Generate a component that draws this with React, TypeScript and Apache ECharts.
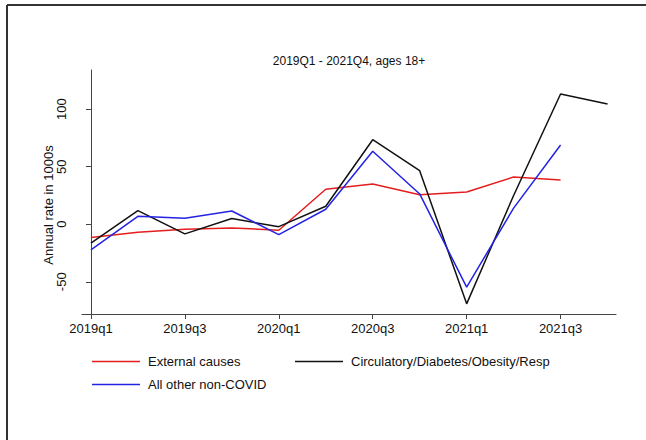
import React, { useEffect, useRef } from "react";
import * as echarts from "echarts";

const quarters = [
  "2019q1", "2019q2", "2019q3", "2019q4",
  "2020q1", "2020q2", "2020q3", "2020q4",
  "2021q1", "2021q2", "2021q3", "2021q4",
];
const externalCauses = [-11.6, -7, -4.3, -3.2, -5.2, 30.4, 35, 25.7, 28, 41, 38.5];
const circulatory = [-16.5, 11.8, -8.4, 4.9, -2.1, 15.6, 73.4, 46.5, -69.2, 25, 113.1, 104.4];
const allOtherNonCovid = [-22.3, 6.9, 5.2, 11.5, -9, 13, 63.4, 26.3, -54.7, 14, 68.8];
const xTickIndex = [0, 2, 4, 6, 8, 10];
const yTicks = [-50, 0, 50, 100];
const seriesNames = ["External causes", "Circulatory/Diabetes/Obesity/Resp", "All other non-COVID"];
const titleText = "2019Q1 - 2021Q4, ages 18+";
const yAxisTitle = "Annual rate in 1000s";

const FONT = '"Liberation Sans", Arial, Helvetica, sans-serif';

export default function App() {
  const ref = useRef<HTMLDivElement>(null);
  useEffect(() => {
    document.body.style.margin = "0";
    if (!ref.current) return;
    const chart = echarts.init(ref.current, null, { renderer: "svg" });
    const toPairs = (arr: number[]) => arr.map((v, i) => [i, v]);
    const colors = ["rgb(228,30,30)", "#111111", "rgb(35,35,228)"];
    const legendBase = {
      icon: "rect",
      itemWidth: 48,
      itemHeight: 1.6,
      itemGap: 0,
      padding: 0,
      textStyle: { fontFamily: FONT, fontSize: 13, color: "#111", padding: [0, 0, 0, 3] },
      selectedMode: false,
    };
    chart.setOption({
      animation: false,
      backgroundColor: "#ffffff",
      textStyle: { fontFamily: FONT },
      grid: { left: 82, right: 30, top: 70, bottom: 126, outerBoundsMode: "none" },
      xAxis: {
        type: "value",
        min: -0.19,
        max: 11.18,
        axisLine: { show: true, onZero: false, lineStyle: { color: "#444", width: 1 } },
        axisTick: { show: true, customValues: xTickIndex, length: 5, lineStyle: { color: "#444" } },
        axisLabel: {
          customValues: xTickIndex,
          formatter: (v: number) => quarters[Math.round(v)] ?? "",
          fontSize: 13,
          color: "#111",
          margin: 8,
          fontFamily: FONT,
        },
        splitLine: { show: false },
      },
      yAxis: {
        type: "value",
        min: -78,
        max: 134,
        axisLine: { show: true, lineStyle: { color: "#444", width: 1 } },
        axisTick: { show: true, customValues: yTicks, length: 5, lineStyle: { color: "#444" } },
        axisLabel: {
          customValues: yTicks,
          rotate: 90,
          fontSize: 13,
          color: "#111",
          margin: 14,
          fontFamily: FONT,
        },
        splitLine: { show: false },
      },
      legend: [
        { ...legendBase, left: 92, top: 355, data: [seriesNames[0]] },
        { ...legendBase, left: 295, top: 355, data: [seriesNames[1]] },
        { ...legendBase, left: 92, top: 378, data: [seriesNames[2]] },
      ],
      series: [
        { name: seriesNames[0], type: "line", data: toPairs(externalCauses), color: colors[0] },
        { name: seriesNames[1], type: "line", data: toPairs(circulatory), color: colors[1] },
        { name: seriesNames[2], type: "line", data: toPairs(allOtherNonCovid), color: colors[2] },
      ].map((s) => ({
        ...s,
        showSymbol: false,
        symbol: "none",
        lineStyle: { width: 1.5, color: s.color },
        itemStyle: { color: s.color },
      })),
      graphic: [
        { type: "line", shape: { x1: 7, y1: 5, x2: 646, y2: 5 }, style: { stroke: "#333", lineWidth: 2 } },
        { type: "line", shape: { x1: 7, y1: 5, x2: 7, y2: 440 }, style: { stroke: "#333", lineWidth: 2 } },
        {
          type: "text",
          x: 349,
          y: 60.5,
          style: { text: titleText, fontSize: 12, fontFamily: FONT, fill: "#111", align: "center", verticalAlign: "middle" },
        },
        {
          type: "text",
          x: 48,
          y: 205,
          rotation: Math.PI / 2,
          style: { text: yAxisTitle, fontSize: 13, fontFamily: FONT, fill: "#111", align: "center", verticalAlign: "middle" },
        },
      ],
    });
    return () => chart.dispose();
  }, []);
  return <div ref={ref} style={{ width: 646, height: 440 }} />;
}
